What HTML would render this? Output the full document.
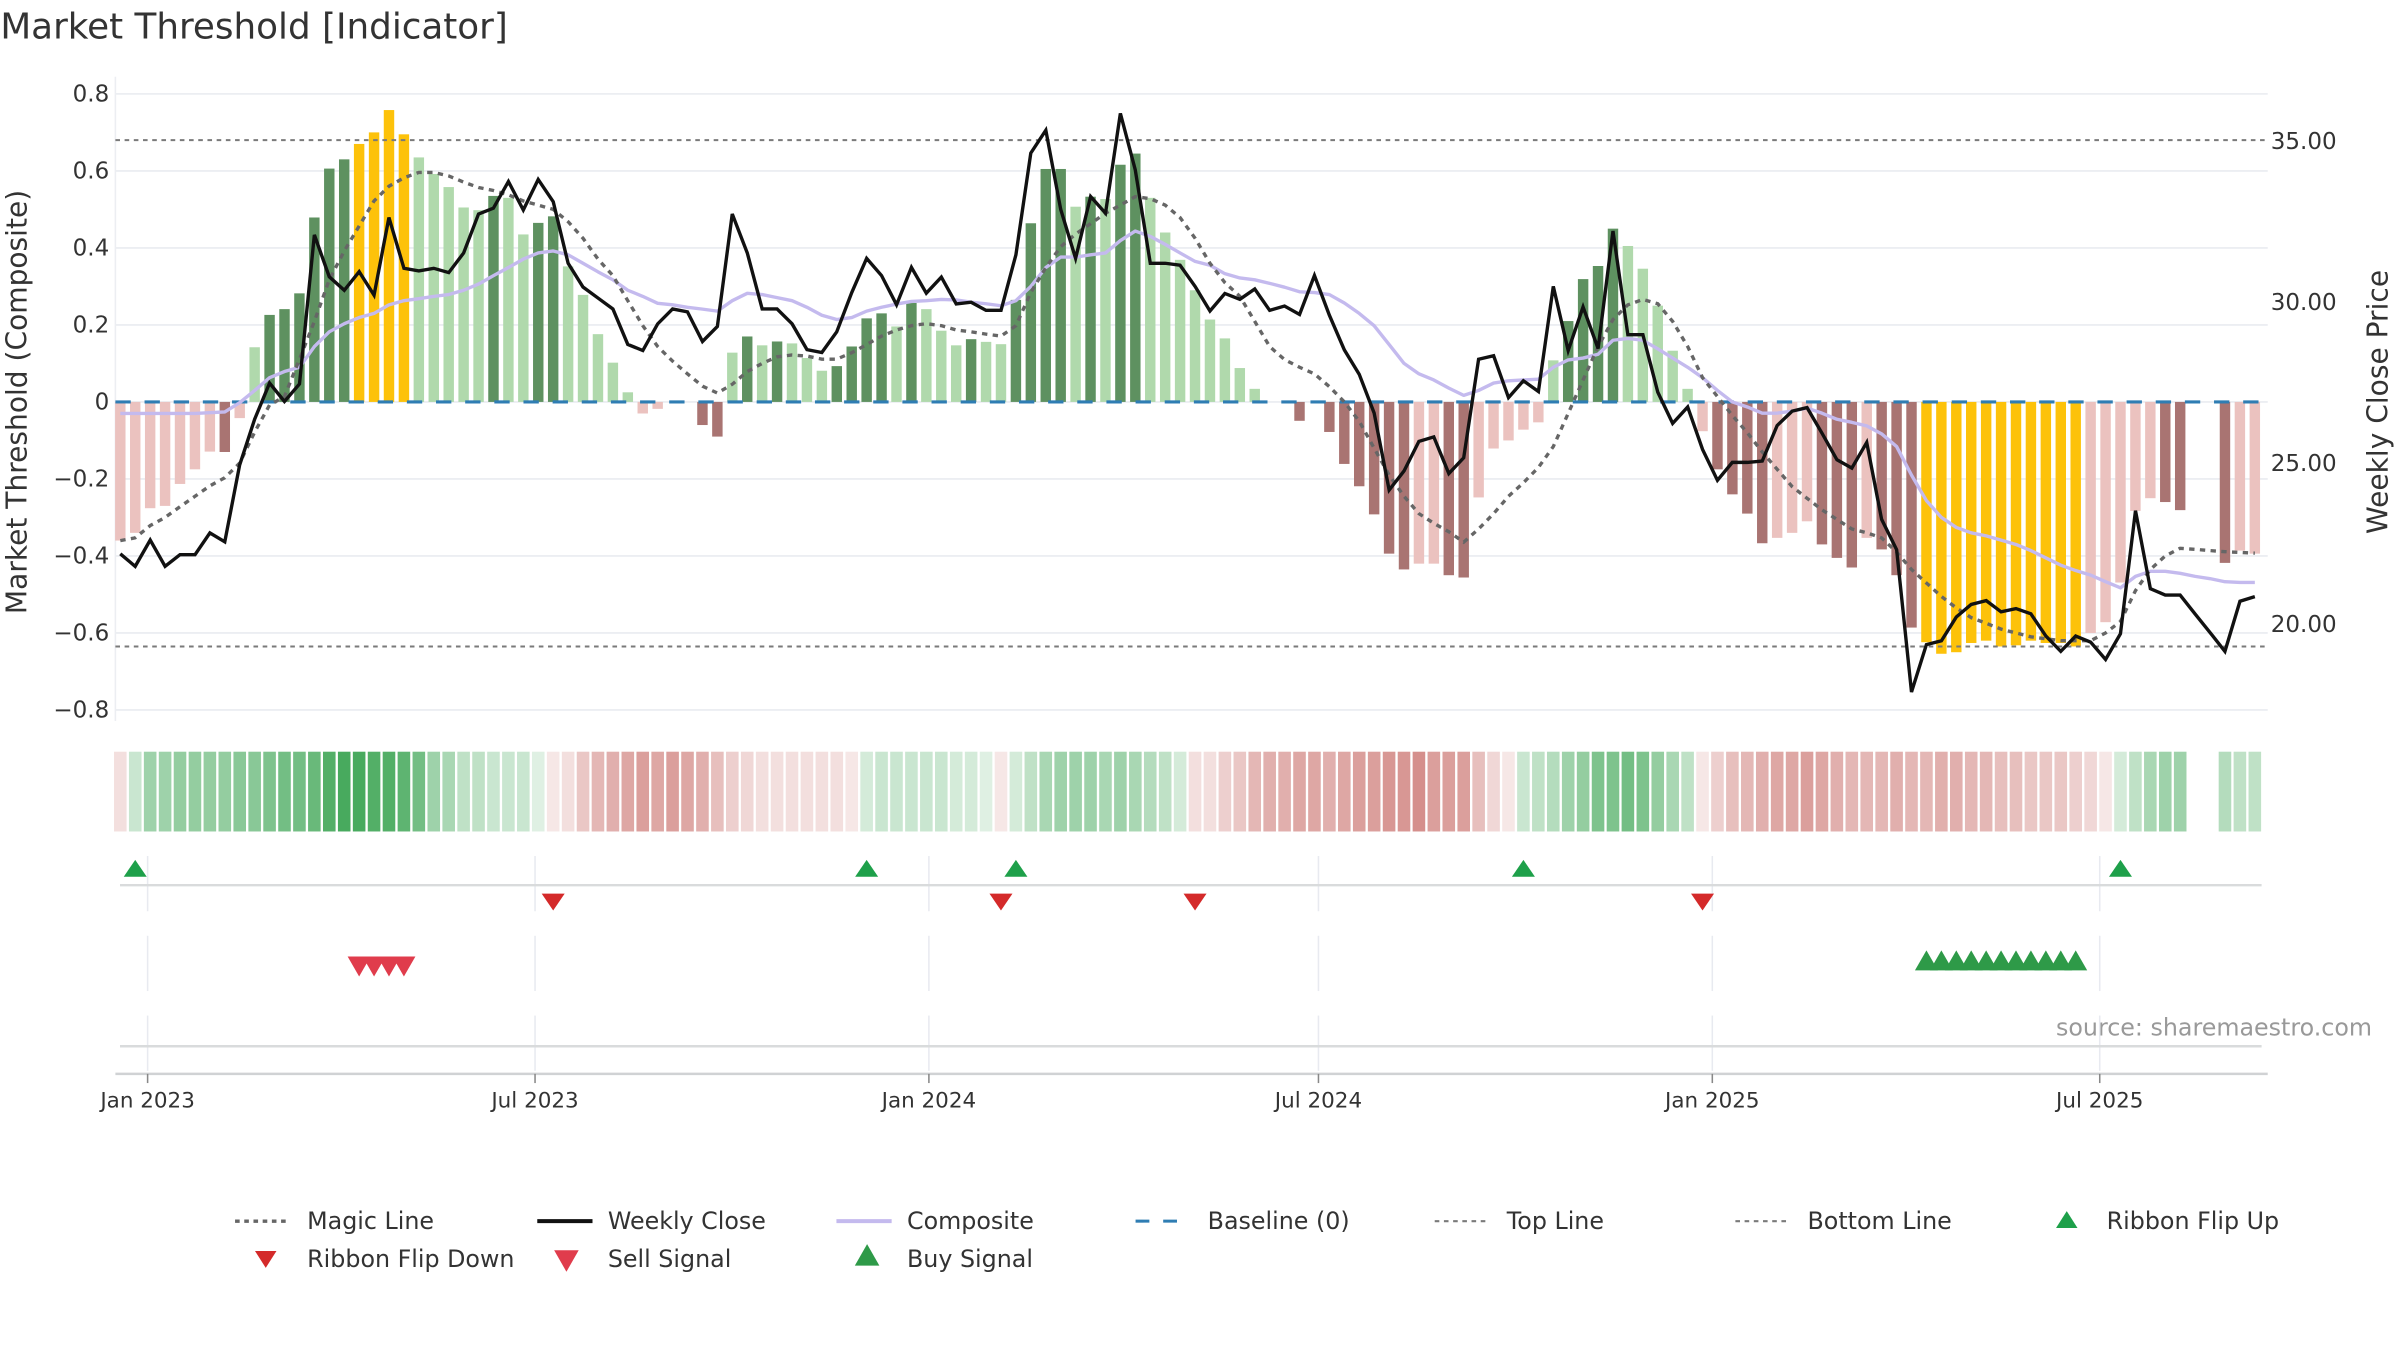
<!DOCTYPE html>
<html><head><meta charset="utf-8"><title>Market Threshold [Indicator]</title>
<style>
html,body{margin:0;padding:0;background:#fff;}
svg{display:block;font-family:"DejaVu Sans","Liberation Sans",sans-serif;}
</style></head>
<body>
<svg id="chart" width="2400" height="1350" viewBox="0 0 1564 880" xmlns="http://www.w3.org/2000/svg">
<text x="0" y="25" font-size="23.3" fill="#333">Market Threshold [Indicator]</text>
<text transform="translate(17,262) rotate(-90)" text-anchor="middle" font-size="18.3" fill="#333">Market Threshold (Composite)</text>
<text transform="translate(1556,262) rotate(-90)" text-anchor="middle" font-size="18.3" fill="#333">Weekly Close Price</text>
<text x="1546" y="675" text-anchor="end" font-size="15.5" fill="#999">source: sharemaestro.com</text>
<g id="grid"></g><g id="bars"></g><g id="lines"></g><g id="lower"></g><g id="axes"></g><g id="legend"></g>
</svg>
<script>
const bars=[-0.36,-0.34,-0.276,-0.27,-0.213,-0.175,-0.129,-0.13,-0.042,0.142,0.226,0.241,0.282,0.479,0.606,0.63,0.67,0.70,0.758,0.695,0.635,0.592,0.558,0.505,0.498,0.535,0.53,0.435,0.465,0.482,0.352,0.278,0.176,0.102,0.025,-0.03,-0.018,0,0,-0.06,-0.09,0.128,0.17,0.147,0.157,0.152,0.114,0.081,0.093,0.144,0.217,0.23,0.196,0.257,0.241,0.185,0.147,0.163,0.156,0.15,0.265,0.464,0.605,0.605,0.507,0.533,0.527,0.616,0.645,0.53,0.44,0.369,0.29,0.214,0.165,0.088,0.034,0,0,-0.049,0,-0.078,-0.161,-0.219,-0.292,-0.394,-0.435,-0.42,-0.42,-0.45,-0.456,-0.248,-0.121,-0.10,-0.072,-0.053,0.108,0.21,0.319,0.353,0.45,0.405,0.346,0.25,0.133,0.034,-0.076,-0.175,-0.24,-0.29,-0.367,-0.353,-0.34,-0.31,-0.37,-0.405,-0.43,-0.353,-0.383,-0.45,-0.586,-0.624,-0.654,-0.65,-0.626,-0.62,-0.635,-0.632,-0.62,-0.626,-0.626,-0.635,-0.6,-0.572,-0.469,-0.283,-0.25,-0.26,-0.281,0,0,-0.418,-0.386,-0.394];
const barClass="PPPPPPPBPLDDDDDDGGGGLLLLLDLLDDLLLLLPPPPBBLDLDLLLDDDDLDLLLDLLDDDDLDLDDLLLLLLLLPPBPBBBBBBPPBBPPPPPLDDDDLLLLLPBBBBPPPBBBPBBBGGGGGGGGGGGPPPPPBBPPBPP";
const closePrice=[22.19,21.80,22.62,21.80,22.16,22.16,22.84,22.56,24.95,26.37,27.49,26.92,27.46,32.09,30.79,30.37,30.95,30.22,32.63,31.05,30.97,31.05,30.92,31.53,32.74,32.92,33.75,32.86,33.81,33.12,31.21,30.47,30.13,29.79,28.69,28.50,29.33,29.79,29.70,28.78,29.25,32.74,31.53,29.79,29.79,29.33,28.53,28.44,29.08,30.30,31.36,30.83,29.92,31.08,30.28,30.78,29.95,30.00,29.75,29.75,31.47,34.63,35.34,32.88,31.36,33.28,32.76,35.86,34.11,31.21,31.21,31.15,30.49,29.73,30.27,30.09,30.41,29.75,29.88,29.62,30.83,29.60,28.52,27.76,26.56,24.17,24.76,25.68,25.82,24.68,25.17,28.23,28.34,27.04,27.56,27.23,30.49,28.50,29.85,28.56,32.21,28.99,28.99,27.21,26.24,26.75,25.43,24.47,25.03,25.03,25.07,26.17,26.62,26.73,25.94,25.11,24.85,25.65,23.26,22.32,17.90,19.37,19.49,20.23,20.62,20.74,20.39,20.49,20.33,19.64,19.16,19.64,19.45,18.91,19.71,23.53,21.11,20.91,20.91,20.32,19.75,19.16,20.72,20.86];
const magicLine=[-0.36,-0.353,-0.321,-0.30,-0.272,-0.245,-0.218,-0.197,-0.159,-0.078,-0.008,0.014,0.111,0.209,0.317,0.392,0.457,0.522,0.56,0.582,0.596,0.596,0.587,0.571,0.557,0.549,0.538,0.522,0.511,0.5,0.468,0.425,0.371,0.328,0.263,0.198,0.144,0.106,0.073,0.041,0.023,0.046,0.079,0.10,0.117,0.122,0.119,0.111,0.111,0.128,0.149,0.171,0.187,0.198,0.203,0.198,0.187,0.182,0.176,0.171,0.198,0.284,0.349,0.403,0.436,0.463,0.49,0.511,0.533,0.528,0.511,0.479,0.425,0.36,0.31,0.274,0.209,0.144,0.11,0.09,0.073,0.04,0.0,-0.05,-0.12,-0.19,-0.245,-0.29,-0.315,-0.337,-0.364,-0.33,-0.29,-0.245,-0.21,-0.17,-0.116,-0.03,0.057,0.144,0.214,0.252,0.266,0.255,0.209,0.144,0.063,0.014,-0.035,-0.08,-0.13,-0.175,-0.22,-0.25,-0.28,-0.305,-0.33,-0.34,-0.353,-0.39,-0.435,-0.47,-0.505,-0.535,-0.56,-0.575,-0.59,-0.60,-0.61,-0.615,-0.62,-0.62,-0.62,-0.60,-0.57,-0.49,-0.435,-0.40,-0.38,-0.383,-0.386,-0.389,-0.391,-0.393];
const compositeLine=[-0.03,-0.03,-0.03,-0.03,-0.03,-0.03,-0.028,-0.026,-0.002,0.03,0.063,0.079,0.09,0.144,0.182,0.203,0.219,0.23,0.252,0.263,0.268,0.274,0.279,0.29,0.306,0.328,0.349,0.371,0.387,0.392,0.382,0.36,0.338,0.317,0.29,0.274,0.256,0.252,0.246,0.241,0.236,0.263,0.282,0.279,0.271,0.263,0.246,0.225,0.214,0.219,0.236,0.246,0.254,0.261,0.263,0.266,0.265,0.259,0.255,0.25,0.263,0.30,0.349,0.376,0.376,0.382,0.387,0.419,0.444,0.43,0.409,0.387,0.365,0.355,0.333,0.322,0.317,0.308,0.298,0.286,0.284,0.279,0.257,0.23,0.198,0.149,0.10,0.073,0.057,0.036,0.017,0.03,0.049,0.055,0.057,0.059,0.09,0.109,0.114,0.124,0.16,0.165,0.16,0.138,0.114,0.09,0.063,0.03,0.0,-0.013,-0.029,-0.029,-0.024,-0.016,-0.029,-0.045,-0.053,-0.062,-0.083,-0.116,-0.19,-0.256,-0.30,-0.326,-0.34,-0.348,-0.359,-0.37,-0.386,-0.405,-0.424,-0.438,-0.45,-0.467,-0.483,-0.453,-0.44,-0.44,-0.445,-0.453,-0.459,-0.467,-0.469,-0.469];
const ribbon=[-0.2,0.25,0.45,0.45,0.5,0.5,0.5,0.5,0.55,0.55,0.6,0.65,0.65,0.7,0.8,0.85,0.85,0.8,0.8,0.75,0.65,0.45,0.4,0.3,0.3,0.25,0.25,0.25,0.15,-0.15,-0.2,-0.35,-0.45,-0.5,-0.55,-0.6,-0.55,-0.6,-0.55,-0.5,-0.4,-0.3,-0.25,-0.2,-0.2,-0.2,-0.2,-0.2,-0.2,-0.15,0.2,0.25,0.25,0.25,0.25,0.25,0.2,0.2,0.15,-0.15,0.2,0.3,0.4,0.45,0.45,0.45,0.4,0.45,0.4,0.35,0.3,0.2,-0.2,-0.2,-0.3,-0.35,-0.45,-0.5,-0.5,-0.55,-0.55,-0.5,-0.55,-0.6,-0.6,-0.65,-0.65,-0.7,-0.6,-0.6,-0.6,-0.4,-0.25,-0.15,0.25,0.3,0.35,0.45,0.5,0.6,0.6,0.65,0.6,0.5,0.4,0.3,-0.15,-0.3,-0.4,-0.45,-0.5,-0.55,-0.55,-0.6,-0.55,-0.5,-0.45,-0.45,-0.45,-0.5,-0.45,-0.45,-0.5,-0.5,-0.45,-0.45,-0.4,-0.4,-0.35,-0.35,-0.35,-0.3,-0.25,-0.15,0.2,0.3,0.4,0.45,0.45,null,null,0.35,0.3,0.3];
const flipUpWeeks=[1,50,60,94,134];
const flipDownWeeks=[29,59,72,106];
const sellWeeks=[16,17,18,19];
const buyWeeks=[121,122,123,124,125,126,127,128,129,130,131];
const leftTicks=[0.8,0.6,0.4,0.2,0,-0.2,-0.4,-0.6,-0.8];
const leftTickLabels=["0.8","0.6","0.4","0.2","0","\u22120.2","\u22120.4","\u22120.6","\u22120.8"];
const rightTicks=[35,30,25,20];
const rightTickLabels=["35.00","30.00","25.00","20.00"];
const dateTicks=["2023-01-01","2023-07-01","2024-01-01","2024-07-01","2025-01-01","2025-07-01"];
const dateTickLabels=["Jan 2023","Jul 2023","Jan 2024","Jul 2024","Jan 2025","Jul 2025"];
const topLineValue=0.68, bottomLineValue=-0.635;

const NS="http://www.w3.org/2000/svg";
const X0=78.2, STEP=9.73, PL=75, PR=1478;
const xW=i=>X0+i*STEP;
const firstTickDays=Date.UTC(2023,0,1);
const xDate=s=>{const d=new Date(s+"T00:00:00Z");return 96+(d-firstTickDays)/86400000*(9.767/7);};
const yL=v=>262-v*251;
const yR=p=>92+(35-p)*21;
function mk(tag,attrs,parent){const e=document.createElementNS(NS,tag);for(const k in attrs)e.setAttribute(k,attrs[k]);parent.appendChild(e);return e;}
const G=id=>document.getElementById(id);

leftTicks.forEach((v,k)=>{
  const l=mk('line',{x1:PL,x2:PR,y1:yL(v),y2:yL(v),stroke:'#eceef2','stroke-width':1.2},G('grid'));
  
  
  const t=mk('text',{x:71,y:yL(v)+5,'text-anchor':'end','font-size':15,fill:'#333'},G('axes'));
  t.textContent=leftTickLabels[k];
  
  
});
rightTicks.forEach((p,k)=>{
  const t=mk('text',{x:1480,y:yR(p)+5,'font-size':15,fill:'#333'},G('axes'));
  t.textContent=rightTickLabels[k];
  
  
});
const axL=mk('line',{x1:PL,x2:PL,y1:50,y2:470,stroke:'#eceef2','stroke-width':1},G('grid'));



const barColors={P:'#ebc2bf',B:'#a97472',L:'#b0d9ac',D:'#5e9160',G:'#fdc20a'};
bars.forEach((v,i)=>{
  if(v===0)return;
  const y=Math.min(yL(v),yL(0)),h=Math.abs(yL(v)-yL(0));
  const r=mk('rect',{x:xW(i)-3.4,y:y,width:6.8,height:h,fill:barColors[barClass[i]]},G('bars'));
  
  
});

const topL=mk('line',{x1:PL,x2:PR,y1:yL(topLineValue),y2:yL(topLineValue),stroke:'#7a7a7a','stroke-width':1.3,'stroke-dasharray':'3,3'},G('lines'));


const botL=mk('line',{x1:PL,x2:PR,y1:yL(bottomLineValue),y2:yL(bottomLineValue),stroke:'#7a7a7a','stroke-width':1.3,'stroke-dasharray':'3,3'},G('lines'));


const base=mk('line',{x1:PL,x2:PR,y1:yL(0),y2:yL(0),stroke:'#2f7db3','stroke-width':2,'stroke-dasharray':'10,9'},G('lines'));



function poly(arr,yf){return arr.map((v,i)=>xW(i).toFixed(1)+','+yf(v).toFixed(1)).join(' ');}
const comp=mk('polyline',{points:poly(compositeLine,yL),fill:'none',stroke:'#c4baee','stroke-width':2.2,'stroke-linejoin':'round'},G('lines'));


const mag=mk('polyline',{points:poly(magicLine,yL),fill:'none',stroke:'#666','stroke-width':2.2,'stroke-dasharray':'3.5,3.5'},G('lines'));


const cl=mk('polyline',{points:poly(closePrice,yR),fill:'none',stroke:'#111','stroke-width':2.2,'stroke-linejoin':'miter'},G('lines'));



ribbon.forEach((v,i)=>{
  if(v===null)return;
  const t=Math.abs(v);
  const full=v>0?[40,155,65]:[195,95,90];
  const c=full.map(f=>Math.round(255-(255-f)*t));
  const r=mk('rect',{x:xW(i)-4.1,y:490,width:8.2,height:52,fill:'rgb('+c.join(',')+')'},G('lower'));
  
  
});

dateTicks.forEach(d=>{
  const x=xDate(d);
  [[558,594],[610,646],[662,698]].forEach(([a,b])=>{
    const l=mk('line',{x1:x,x2:x,y1:a,y2:b,stroke:'#e8eaf0','stroke-width':1},G('lower'));
    
    
  });
});
[577,682].forEach(y=>{
  const l=mk('line',{x1:78,x2:1474,y1:y,y2:y,stroke:'#d9dbdc','stroke-width':1.6},G('lower'));
  
  
});
const xax=mk('line',{x1:75,x2:1478,y1:700,y2:700,stroke:'#d0d2d4','stroke-width':1.6},G('axes'));


dateTicks.forEach((d,k)=>{
  const x=xDate(d);
  const tk=mk('line',{x1:x,x2:x,y1:700,y2:706,stroke:'#888','stroke-width':1},G('axes'));
  
  
  const t=mk('text',{x:x,y:722,'text-anchor':'middle','font-size':14,fill:'#333'},G('axes'));
  t.textContent=dateTickLabels[k];
  
  
});

function tri(cx,cy,up,w,h,fill,parent){
  const pts=up?[[cx-w/2,cy+h/2],[cx+w/2,cy+h/2],[cx,cy-h/2]]:[[cx-w/2,cy-h/2],[cx+w/2,cy-h/2],[cx,cy+h/2]];
  return mk('polygon',{points:pts.map(p=>p.join(',')).join(' '),fill:fill},parent);
}
flipUpWeeks.forEach(i=>{
  const p=tri(xW(i),566,true,15,11,'#1ea04a',G('lower'));
  
  
});
flipDownWeeks.forEach(i=>{
  const p=tri(xW(i),588,false,15,11,'#d42a2a',G('lower'));
  
  
});
sellWeeks.forEach(i=>{
  const p=tri(xW(i),630,false,15,13,'#e03c4c',G('lower'));
  
  
});
buyWeeks.forEach(i=>{
  const p=tri(xW(i),626,true,15,13,'#2e9a48',G('lower'));
  
  
});

const LG=G('legend');
function legText(x,y,s,name){const t=mk('text',{x:x,y:y,'font-size':15.5,fill:'#333'},LG);t.textContent=s;}
function legLine(x,y,attrs,name){const l=mk('line',Object.assign({x1:x,x2:x+36,y1:y,y2:y},attrs),LG);}
legLine(153,796,{stroke:'#666','stroke-width':2.2,'stroke-dasharray':'3,3'},'legend-magic-line-symbol');
legText(200,801,'Magic Line','legend-magic-line');
legLine(350,796,{stroke:'#111','stroke-width':2.6},'legend-weekly-close-symbol');
legText(396,801,'Weekly Close','legend-weekly-close');
legLine(545,796,{stroke:'#c4baee','stroke-width':2.6},'legend-composite-symbol');
legText(591,801,'Composite','legend-composite');
legLine(740,796,{stroke:'#2f7db3','stroke-width':2,'stroke-dasharray':'9,9'},'legend-baseline-symbol');
legText(787,801,'Baseline (0)','legend-baseline');
legLine(935,796,{stroke:'#7a7a7a','stroke-width':1.4,'stroke-dasharray':'3,3'},'legend-top-line-symbol');
legText(982,801,'Top Line','legend-top-line');
legLine(1131,796,{stroke:'#7a7a7a','stroke-width':1.4,'stroke-dasharray':'3,3'},'legend-bottom-line-symbol');
legText(1178,801,'Bottom Line','legend-bottom-line');
let lp=tri(1347,795,true,14,11,'#1ea04a',LG);


legText(1373,801,'Ribbon Flip Up','legend-ribbon-flip-up');
lp=tri(173,821,false,14,11,'#d42a2a',LG);


legText(200,826,'Ribbon Flip Down','legend-ribbon-flip-down');
lp=tri(369,822,false,16,14,'#e03c4c',LG);


legText(396,826,'Sell Signal','legend-sell-signal');
lp=tri(565,818,true,16,14,'#2e9a48',LG);


legText(591,826,'Buy Signal','legend-buy-signal');
</script>
</body></html>
